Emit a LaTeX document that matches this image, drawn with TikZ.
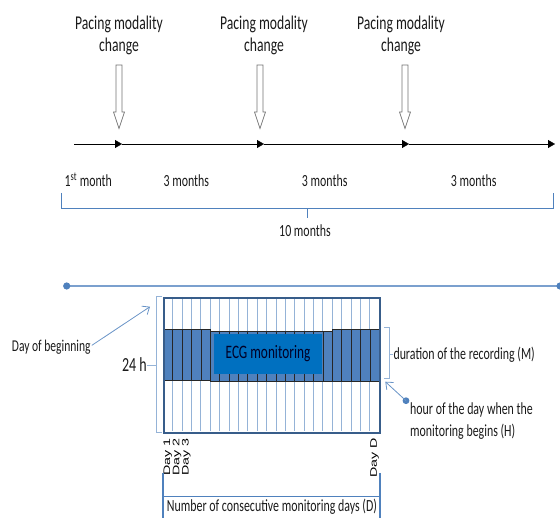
\documentclass[tikz,border=0pt]{standalone}
\usepackage{fontspec}
\setmainfont{Carlito}[FakeStretch=0.7]
\newfontfamily\dayfont{Liberation Sans}[FakeStretch=1.5]
\usetikzlibrary{arrows.meta}
\definecolor{lineblue}{HTML}{4F81BD}
\definecolor{paleblue}{HTML}{95B3D7}
\definecolor{frameblue}{HTML}{385D8A}
\definecolor{ecgblue}{HTML}{0070C0}
\definecolor{txt}{HTML}{1A1A1A}
\tikzset{
  lbl/.style={font=\fontsize{17}{21.7}\selectfont, text=txt, inner sep=0pt},
  pacing/.style={font=\fontsize{19.5}{22.4}\selectfont, text=txt, inner sep=0pt, align=center},
  daylbl/.style={font=\dayfont\fontsize{9.5}{10}\selectfont, rotate=90, anchor=east, inner sep=0pt},
  tline/.style={black, -{Triangle[length=7pt,width=8pt]}},
  hollow/.style={draw=black!55, fill=white, line width=0.7pt},
  bracket/.style={lineblue, line width=0.9pt},
  pointer/.style={lineblue!85, line width=0.8pt, -{Straight Barb[length=6pt,width=10pt]}},
  cell/.style={draw=black!85, fill=lineblue, line width=0.7pt}
}
\begin{document}
\begin{tikzpicture}[x=1pt,y=-1pt]
	\useasboundingbox (0,0) rectangle (560,518);
	
	% pacing changes
	\node[pacing] (pc1) at (119,35.7) {Pacing modality\\change};
	\node[pacing] (pc2) at (264,35.7) {Pacing modality\\change};
	\node[pacing] (pc3) at (401,35.7) {Pacing modality\\change};
	\foreach \x in {119,260,405}
		\draw[hollow] (\x-3,65) -- (\x+3,65) -- (\x+3,112) -- (\x+5.5,112) -- (\x,128.5)
			-- (\x-5.5,112) -- (\x-3,112) -- cycle;
	
	% time line
	\coordinate (tl0) at (74,144);
	\coordinate (tl1) at (122,144);
	\coordinate (tl2) at (264,144);
	\coordinate (tl3) at (409,144);
	\coordinate (tl4) at (555,144);
	\draw[tline] (tl0) -- (tl1);
	\draw[tline] (tl1) -- (tl2);
	\draw[tline] (tl2) -- (tl3);
	\draw[tline] (tl3) -- (tl4);
	
	\node[lbl, anchor=base] (m1) at (88.3,186.7) {1\textsuperscript{st} month};
	\node[lbl, anchor=base] (m2) at (186.3,186.7) {3 months};
	\node[lbl, anchor=base] (m3) at (324.7,186.7) {3 months};
	\node[lbl, anchor=base] (m4) at (473.7,186.7) {3 months};
	
	\draw[bracket] (61,193) -- (61,208.3) -- (553,208.3) -- (553,193);
	\draw[bracket] (307,208.3) -- (307,218);
	\node[lbl, anchor=base] (total) at (305,236.7) {10 months};
	
	% second part
	\coordinate (bl0) at (66.7,286);
	\coordinate (bl1) at (560,286);
	\draw[lineblue!75, line width=1.6pt] (bl0) -- (bl1);
	\fill[lineblue] (bl0) circle (3.6);
	\fill[lineblue] (bl1) circle (3.6);
	
	% days x hours grid
	\foreach \i in {1,...,22}
		\draw[paleblue, line width=0.9pt] (163.3+\i*9.39,297) -- (163.3+\i*9.39,431);
	\foreach \i in {0,...,4}
		\draw[cell] (163.3+\i*9.39,329.3) rectangle ++(9.39,50.7);
	\foreach \i in {5,...,17}
		\draw[cell] (163.3+\i*9.39,331) rectangle ++(9.39,50.7);
	\foreach \i in {18,...,22}
		\draw[cell] (163.3+\i*9.39,329.3) rectangle ++(9.39,52);
	\node[fill=ecgblue, minimum width=107.5pt, minimum height=40pt, inner sep=0pt,
		font=\fontsize{19}{22}\selectfont, text=black!85!blue] (ecg) at (268,354) {ECG monitoring};
	\node[draw=frameblue, line width=2pt, minimum width=216pt, minimum height=135pt,
		anchor=north west, inner sep=0pt] (grid) at (163.3,296.7) {};
	
	% 24 h
	\draw[bracket, paleblue] (162,296.5) -- (156,296.5) -- (156,432) -- (162,432);
	\coordinate (hb) at (156,365);
	\node[font=\fontsize{20}{22}\selectfont, text=txt, inner sep=0pt, anchor=base east] (hours) at (147,371.7) {24 h};
	\draw[bracket, paleblue] (hb) -- (hours.east |- hb);
	
	% duration M
	\draw[bracket, paleblue] (384,327.3) -- (389,327.3) -- (389,378.3) -- (384,378.3);
	\coordinate (mb) at (389,354);
	\node[lbl, anchor=base west] (dur) at (393.3,360) {duration of the recording (M)};
	\draw[bracket, paleblue] (mb) -- (dur.west |- mb);
	
	% hour H
	\node[lbl, anchor=north west, align=left] (hour) at (410,402.5) {hour of the day when the\\monitoring begins (H)};
	\coordinate (hdot) at (406,400.7);
	\coordinate (htip) at (385.3,381.7);
	\fill[lineblue] (hdot) circle (3.4);
	\draw[pointer] (hdot) -- (htip);
	
	% day of beginning
	\node[lbl, font=\fontsize{16.5}{20}\selectfont, anchor=base west] (dob) at (11.7,351.7) {Day of beginning};
	\coordinate (dtip) at (150,306.7);
	\draw[pointer] (dob.east) ++(1,-2) -- (dtip);
	
	% day labels
	\node[daylbl] (day1) at (167.8,438) {Day 1};
	\node[daylbl] (day2) at (177,438) {Day 2};
	\node[daylbl] (day3) at (186.3,438) {Day 3};
	\node[daylbl] (dayD) at (374.6,438) {Day D};
	
	% number of days D
	\draw[lineblue, line width=2pt] (163.3,473) -- (163.3,520);
	\draw[lineblue, line width=2pt] (379.5,473) -- (379.5,520);
	\draw[lineblue, line width=1.2pt] (163.3,496.7) -- (379.5,496.7);
	\node[lbl, anchor=base west] (ndays) at (166.7,511.7) {Number of consecutive monitoring days (D)};
\end{tikzpicture}
\end{document}
